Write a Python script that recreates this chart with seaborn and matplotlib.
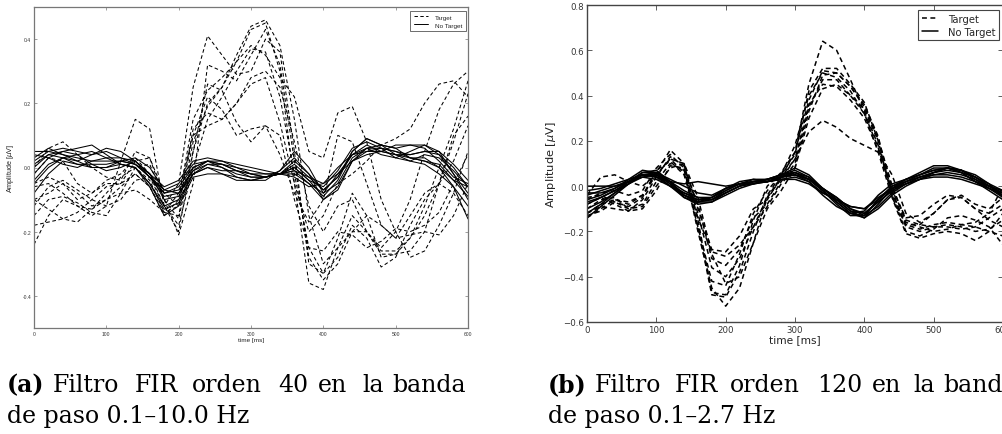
import matplotlib
matplotlib.use("Agg")
import matplotlib.pyplot as plt
import numpy as np
import pandas as pd
import seaborn as sns
from matplotlib.lines import Line2D

# ---------------- data ----------------
time_ms = list(range(0, 601, 20))
conditions = ["Target", "No Target"]

# Panel (a): FIR order 40, 0.1-10.0 Hz
a_target = [
    [-0.10,-0.08,-0.05,-0.08,-0.12,-0.10,-0.06,-0.02,-0.06,-0.15,-0.10,0.15,0.24,0.28,0.33,0.43,0.45,0.30,-0.05,-0.36,-0.38,-0.25,-0.15,-0.20,-0.25,-0.20,-0.10,0.05,0.18,0.26,0.30],
    [-0.12,-0.06,-0.04,-0.07,-0.10,-0.12,-0.10,-0.04,-0.03,-0.12,-0.05,0.25,0.41,0.35,0.29,0.30,0.40,0.36,0.05,-0.30,-0.33,-0.22,-0.08,-0.15,-0.28,-0.27,-0.22,-0.15,-0.05,0.08,0.23],
    [-0.24,-0.15,-0.10,-0.12,-0.15,-0.12,0.02,0.15,0.12,-0.12,-0.20,0.05,0.26,0.24,0.14,0.08,0.13,0.10,-0.10,-0.25,-0.26,-0.20,-0.21,-0.25,-0.23,-0.19,-0.20,-0.18,-0.14,-0.05,0.04],
    [-0.05,-0.03,-0.05,-0.10,-0.08,-0.05,-0.05,0.02,0.03,-0.10,-0.16,0.05,0.20,0.25,0.33,0.38,0.35,0.28,0.22,0.05,0.03,0.17,0.19,0.08,-0.10,-0.20,-0.28,-0.26,-0.18,-0.08,0.05],
    [-0.02,0.03,0.02,-0.05,-0.08,-0.04,-0.02,0.03,-0.02,-0.12,-0.18,0.00,0.15,0.22,0.30,0.37,0.36,0.22,-0.02,-0.25,-0.33,-0.28,-0.18,-0.22,-0.31,-0.28,-0.18,-0.10,-0.05,0.02,0.13],
    [-0.10,-0.13,-0.16,-0.17,-0.13,-0.10,-0.08,-0.07,-0.10,-0.14,-0.08,0.10,0.13,0.15,0.20,0.28,0.30,0.25,0.08,-0.12,-0.20,-0.12,-0.10,-0.20,-0.27,-0.27,-0.26,-0.20,-0.05,0.10,0.16],
    [0.00,0.06,0.08,0.04,0.00,-0.03,-0.04,0.05,0.03,-0.08,-0.12,0.10,0.22,0.18,0.10,0.12,0.13,0.04,-0.08,-0.17,-0.10,0.10,0.08,-0.05,-0.18,-0.22,-0.15,-0.08,-0.05,-0.08,-0.15],
    [-0.18,-0.17,-0.16,-0.14,-0.10,-0.06,-0.05,-0.02,-0.06,-0.14,-0.12,0.12,0.17,0.15,0.20,0.26,0.28,0.14,-0.05,-0.20,-0.15,-0.05,-0.02,0.02,0.07,0.09,0.12,0.20,0.26,0.27,0.22],
    [-0.06,-0.05,-0.08,-0.12,-0.13,-0.08,-0.03,0.00,-0.04,-0.14,-0.15,0.08,0.19,0.25,0.35,0.44,0.46,0.38,0.15,-0.15,-0.30,-0.25,-0.20,-0.15,-0.18,-0.22,-0.21,-0.20,-0.21,-0.15,-0.05],
    [-0.15,-0.10,-0.09,-0.11,-0.14,-0.15,-0.08,0.00,0.01,-0.10,-0.21,-0.05,0.32,0.30,0.27,0.35,0.43,0.32,0.02,-0.28,-0.35,-0.30,-0.20,-0.20,-0.26,-0.26,-0.22,-0.12,0.00,0.12,0.27],
]
a_notarget = [
    [0.05,0.05,0.04,0.03,0.02,0.02,0.02,0.01,-0.03,-0.07,-0.05,0.01,0.02,0.01,0.00,-0.01,-0.02,-0.02,-0.03,-0.06,-0.05,0.00,0.04,0.05,0.05,0.04,0.03,0.03,0.00,-0.04,-0.06],
    [0.03,0.06,0.04,0.02,0.04,0.05,0.03,0.02,-0.02,-0.08,-0.06,0.00,0.02,0.02,0.00,-0.02,-0.03,-0.02,0.02,-0.02,-0.07,-0.03,0.05,0.09,0.07,0.06,0.07,0.07,0.04,-0.02,-0.08],
    [-0.02,0.03,0.05,0.06,0.07,0.04,0.01,0.00,-0.05,-0.12,-0.10,-0.02,0.01,0.00,-0.02,-0.03,-0.03,-0.01,0.05,0.00,-0.08,-0.05,0.03,0.06,0.04,0.03,0.05,0.07,0.05,-0.02,-0.10],
    [-0.05,0.00,0.03,0.02,0.00,0.00,0.02,0.03,0.00,-0.07,-0.08,-0.02,0.00,-0.02,-0.04,-0.04,-0.03,-0.02,-0.02,-0.05,-0.10,-0.06,0.02,0.05,0.06,0.05,0.03,0.02,0.00,-0.06,-0.16],
    [0.00,0.04,0.05,0.04,0.01,-0.01,0.00,0.02,-0.02,-0.10,-0.09,0.00,0.02,0.00,-0.03,-0.04,-0.03,-0.02,0.00,-0.04,-0.06,-0.01,0.06,0.08,0.06,0.03,0.02,0.04,0.03,-0.01,-0.06],
    [-0.08,-0.02,0.02,0.01,0.00,0.00,0.01,0.00,-0.06,-0.15,-0.12,-0.03,-0.02,-0.02,-0.03,-0.04,-0.04,-0.01,0.03,-0.02,-0.10,-0.07,0.02,0.06,0.07,0.06,0.03,0.02,0.01,-0.04,-0.09],
    [0.04,0.03,0.01,0.00,0.02,0.03,0.03,0.01,-0.02,-0.06,-0.04,0.02,0.03,0.02,0.01,0.00,-0.01,-0.02,-0.01,-0.03,-0.05,-0.02,0.02,0.04,0.05,0.07,0.07,0.06,0.02,-0.03,-0.05],
    [0.02,0.05,0.06,0.05,0.04,0.06,0.05,0.02,-0.03,-0.09,-0.08,-0.01,0.01,0.01,-0.01,-0.02,-0.02,-0.02,0.01,-0.03,-0.07,-0.03,0.04,0.07,0.05,0.04,0.04,0.05,0.04,0.00,-0.06],
    [-0.04,0.01,0.03,0.04,0.05,0.03,0.01,0.00,-0.05,-0.13,-0.11,-0.02,0.00,-0.01,-0.01,-0.02,-0.03,-0.02,0.00,-0.04,-0.09,-0.04,0.05,0.09,0.07,0.04,0.02,0.01,-0.02,-0.06,-0.12],
    [0.01,0.04,0.03,0.01,0.01,0.01,0.02,0.01,-0.03,-0.08,-0.07,-0.01,0.02,0.01,-0.01,-0.03,-0.03,-0.02,-0.01,-0.05,-0.08,-0.02,0.04,0.06,0.06,0.05,0.04,0.05,0.05,0.01,-0.04],
]

# Panel (b): FIR order 120, 0.1-2.7 Hz
b_target = [
    [-0.06,-0.03,-0.02,-0.04,-0.02,0.08,0.14,0.08,-0.20,-0.45,-0.53,-0.45,-0.25,-0.05,0.04,0.15,0.45,0.64,0.60,0.47,0.33,0.18,-0.02,-0.18,-0.20,-0.18,-0.17,-0.18,-0.20,-0.19,-0.15],
    [-0.12,-0.08,-0.06,-0.08,-0.04,0.06,0.16,0.10,-0.15,-0.47,-0.48,-0.35,-0.15,0.00,0.06,0.15,0.38,0.51,0.50,0.44,0.36,0.22,-0.04,-0.20,-0.22,-0.19,-0.14,-0.13,-0.15,-0.18,-0.26],
    [-0.14,-0.10,-0.06,-0.07,-0.04,0.05,0.12,0.10,-0.10,-0.28,-0.29,-0.22,-0.10,-0.06,0.04,0.12,0.24,0.29,0.26,0.21,0.18,0.15,0.05,-0.12,-0.16,-0.12,-0.06,-0.05,-0.10,-0.15,-0.18],
    [-0.04,0.04,0.05,0.02,0.00,0.05,0.12,0.06,-0.18,-0.42,-0.44,-0.30,-0.12,-0.02,0.05,0.18,0.40,0.50,0.48,0.42,0.32,0.15,-0.05,-0.17,-0.17,-0.12,-0.06,-0.04,-0.08,-0.10,-0.05],
    [-0.10,-0.06,-0.05,-0.10,-0.08,0.02,0.10,0.07,-0.12,-0.36,-0.40,-0.32,-0.18,-0.05,0.03,0.12,0.36,0.45,0.44,0.38,0.30,0.16,-0.03,-0.17,-0.19,-0.17,-0.16,-0.17,-0.16,-0.12,-0.08],
    [-0.08,-0.05,-0.08,-0.11,-0.10,-0.02,0.09,0.08,-0.08,-0.32,-0.35,-0.28,-0.14,-0.08,0.02,0.10,0.35,0.47,0.47,0.40,0.34,0.20,0.00,-0.16,-0.18,-0.20,-0.19,-0.17,-0.18,-0.20,-0.22],
    [-0.12,-0.09,-0.10,-0.11,-0.06,0.04,0.13,0.09,-0.18,-0.48,-0.49,-0.38,-0.20,-0.04,0.05,0.14,0.42,0.52,0.52,0.45,0.37,0.20,-0.05,-0.21,-0.23,-0.21,-0.20,-0.21,-0.24,-0.20,-0.12],
    [-0.05,-0.04,-0.07,-0.09,-0.05,0.07,0.11,0.05,-0.14,-0.29,-0.31,-0.26,-0.18,-0.09,0.01,0.08,0.30,0.43,0.45,0.40,0.32,0.17,-0.02,-0.14,-0.13,-0.08,-0.04,-0.05,-0.10,-0.12,0.00],
    [-0.13,-0.11,-0.07,-0.10,-0.09,0.00,0.08,0.10,-0.05,-0.30,-0.43,-0.40,-0.25,-0.10,-0.02,0.08,0.33,0.49,0.50,0.44,0.35,0.21,0.00,-0.15,-0.17,-0.18,-0.18,-0.19,-0.18,-0.14,-0.10],
]
b_notarget = [
    [-0.14,-0.09,-0.04,0.01,0.05,0.05,0.00,-0.05,-0.07,-0.05,-0.01,0.01,0.02,0.02,0.04,0.06,0.03,-0.02,-0.07,-0.12,-0.13,-0.06,0.00,0.03,0.05,0.07,0.08,0.06,0.02,-0.01,-0.05],
    [0.00,0.00,0.00,0.02,0.05,0.06,0.03,0.00,-0.03,-0.04,-0.01,0.01,0.02,0.02,0.03,0.04,0.02,-0.03,-0.06,-0.09,-0.10,-0.05,-0.01,0.02,0.04,0.05,0.05,0.04,0.02,0.00,-0.02],
    [-0.08,-0.05,-0.02,0.02,0.06,0.06,0.02,-0.04,-0.07,-0.06,-0.02,0.01,0.03,0.03,0.05,0.07,0.04,-0.02,-0.07,-0.12,-0.14,-0.08,-0.01,0.03,0.06,0.09,0.09,0.07,0.03,-0.01,-0.04],
    [-0.03,-0.03,-0.01,0.02,0.04,0.03,0.00,-0.03,-0.05,-0.05,-0.02,0.01,0.02,0.03,0.04,0.05,0.03,-0.01,-0.05,-0.10,-0.12,-0.07,-0.02,0.01,0.03,0.05,0.06,0.05,0.03,0.00,-0.03],
    [-0.06,-0.04,-0.01,0.03,0.07,0.06,0.01,-0.05,-0.08,-0.07,-0.03,0.00,0.01,0.02,0.04,0.06,0.04,-0.01,-0.06,-0.11,-0.12,-0.07,-0.02,0.02,0.05,0.08,0.08,0.06,0.02,-0.02,-0.06],
    [-0.10,-0.07,-0.03,0.01,0.04,0.05,0.02,-0.02,-0.05,-0.06,-0.03,0.00,0.02,0.03,0.05,0.06,0.03,-0.02,-0.08,-0.13,-0.13,-0.06,0.00,0.02,0.04,0.06,0.07,0.06,0.04,0.00,-0.04],
    [-0.02,-0.01,0.01,0.03,0.05,0.04,0.02,0.01,0.02,0.01,0.00,0.01,0.01,0.02,0.03,0.03,0.01,-0.03,-0.06,-0.09,-0.10,-0.06,-0.01,0.01,0.03,0.04,0.04,0.03,0.01,-0.01,-0.03],
    [-0.12,-0.08,-0.03,0.02,0.06,0.07,0.02,-0.04,-0.06,-0.05,-0.01,0.02,0.03,0.02,0.04,0.05,0.02,-0.04,-0.09,-0.12,-0.11,-0.04,0.01,0.03,0.05,0.07,0.08,0.07,0.04,0.00,-0.03],
    [-0.04,-0.02,0.00,0.02,0.05,0.05,0.01,-0.03,-0.06,-0.06,-0.03,0.00,0.02,0.02,0.04,0.05,0.03,-0.01,-0.05,-0.10,-0.13,-0.09,-0.03,0.01,0.04,0.06,0.08,0.07,0.04,0.01,-0.02],
    [-0.07,-0.05,-0.02,0.01,0.05,0.04,0.00,-0.04,-0.07,-0.07,-0.04,-0.01,0.01,0.03,0.05,0.08,0.05,-0.01,-0.06,-0.11,-0.14,-0.10,-0.04,0.00,0.03,0.06,0.08,0.07,0.05,0.01,-0.05],
]

x_ticks = [0, 100, 200, 300, 400, 500, 600]
a_yticks = [-0.4, -0.2, 0.0, 0.2, 0.4]
a_ytick_labels = ["-0.4", "-0.2", "0.0", "0.2", "0.4"]
b_yticks = [-0.6, -0.4, -0.2, 0.0, 0.2, 0.4, 0.6, 0.8]

caption_a1 = [("(a)", True, 7), ("Filtro", False, 53), ("FIR", False, 135), ("orden", False, 192),
              ("40", False, 278), ("en", False, 318), ("la", False, 362), ("banda", False, 392)]
caption_a2 = "de paso 0.1–10.0 Hz"
caption_b1 = [("(b)", True, 548), ("Filtro", False, 595), ("FIR", False, 675), ("orden", False, 730),
              ("120", False, 817), ("en", False, 872), ("la", False, 913), ("banda", False, 943)]
caption_b2 = "de paso 0.1–2.7 Hz"


def long_frame(target, notarget):
    rows = []
    for cond, group in zip(conditions, (target, notarget)):
        for i, vals in enumerate(group):
            for t, v in zip(time_ms, vals):
                rows.append((t, v, cond, f"{cond}-{i}"))
    return pd.DataFrame(rows, columns=["time", "amp", "cond", "trial"])


sns.set_style("ticks")
plt.rcParams["font.family"] = ["DejaVu Sans"]

W, H = 1003, 435
fig = plt.figure(figsize=(W / 100, H / 100), dpi=100)


def px_axes(x0, x1, y0, y1):
    return fig.add_axes([x0 / W, 1 - y1 / H, (x1 - x0) / W, (y1 - y0) / H])


def draw_panel(ax, df, lw, dash, spine_c, spine_lw):
    sns.lineplot(data=df, x="time", y="amp", style="cond", units="trial", estimator=None,
                 color="black", dashes={"Target": dash, "No Target": ""}, linewidth=lw,
                 legend=False, sort=False, ax=ax)
    ax.set_xlim(0, 600)
    ax.set_xticks(x_ticks)
    for s in ax.spines.values():
        s.set_color(spine_c)
        s.set_linewidth(spine_lw)
        s.set_visible(True)
    ax.tick_params(direction="in", top=True, right=True, colors=spine_c)


# ---- panel (a) ----
axa = px_axes(34, 468, 8, 329)
draw_panel(axa, long_frame(a_target, a_notarget), 0.75, (3.5, 2.5), "#777777", 0.9)
axa.set_ylim(-0.5, 0.5)
axa.set_yticks(a_yticks, a_ytick_labels)
axa.tick_params(labelsize=3.6, length=2.5, width=0.5, pad=2, labelcolor="#333333")
axa.set_xlabel("time [ms]", fontsize=4.6, family="Liberation Sans", labelpad=1, color="#222222")
axa.set_ylabel("Amplitude [$\\mu$V]", fontsize=5.2, family="Liberation Sans", labelpad=5, color="#222222")
for lab in axa.get_xticklabels() + axa.get_yticklabels():
    lab.set_family("Liberation Sans")
handles_a = [Line2D([], [], color="black", lw=0.7, dashes=(3.5, 2.5)),
             Line2D([], [], color="black", lw=0.7)]
lga = axa.legend(handles_a, conditions, loc="upper right", bbox_to_anchor=(0.995, 0.988),
                 borderaxespad=0, fancybox=False, framealpha=1, edgecolor="#555555",
                 handlelength=2.2, handletextpad=1.2, borderpad=0.5, labelspacing=0.4,
                 prop={"family": "Liberation Sans", "size": 4.6})
lga.get_frame().set_linewidth(0.6)

# ---- panel (b) ----
axb = px_axes(587, 1003, 6, 323)
draw_panel(axb, long_frame(b_target, b_notarget), 1.1, (3.2, 2.3), "#444444", 1.0)
axb.set_ylim(-0.6, 0.8)
axb.set_yticks(b_yticks)
axb.tick_params(labelsize=6.2, length=3.5, width=0.6, pad=2.5, labelcolor="#333333")
axb.set_xlabel("time [ms]", fontsize=7.6, labelpad=0, color="#222222")
axb.set_ylabel("Amplitude [$\\mu$V]", fontsize=8.2, labelpad=3, color="#222222")
handles_b = [Line2D([], [], color="black", lw=1.1, dashes=(3.2, 2.3)),
             Line2D([], [], color="black", lw=1.1)]
lgb = axb.legend(handles_b, conditions, loc="upper right", bbox_to_anchor=(0.99, 0.984),
                 borderaxespad=0, fontsize=7.2, fancybox=False, framealpha=1, edgecolor="#444444",
                 handlelength=1.6, handletextpad=1.0, borderpad=0.35, labelspacing=0.3)
lgb.get_frame().set_linewidth(0.8)

# ---- captions ----
cap_font = "DejaVu Serif"
cap_size = 17
for words, y_base in ((caption_a1, 392), (caption_b1, 392)):
    for word, bold, xpx in words:
        fig.text(xpx / W, 1 - y_base / H, word, fontsize=cap_size, family=cap_font,
                 fontweight="bold" if bold else "normal", va="baseline", ha="left", color="black")
fig.text(7 / W, 1 - 423 / H, caption_a2, fontsize=cap_size, family=cap_font, va="baseline", color="black")
fig.text(548 / W, 1 - 423 / H, caption_b2, fontsize=cap_size, family=cap_font, va="baseline", color="black")

fig.savefig("out.png", dpi=100, facecolor="white")
